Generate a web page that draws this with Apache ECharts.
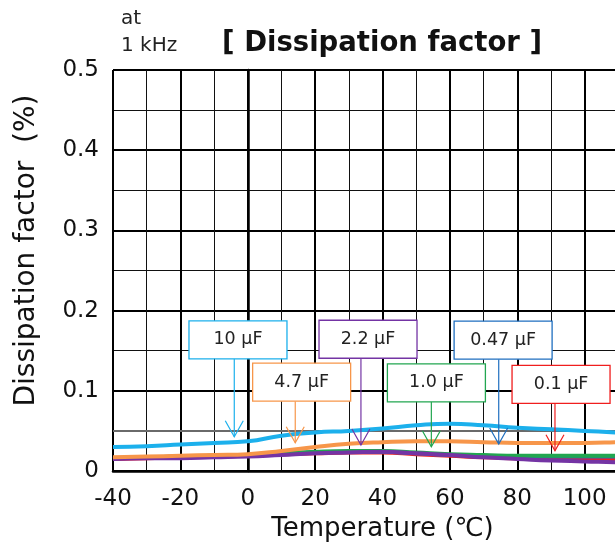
<!DOCTYPE html>
<html>
<head>
<meta charset="utf-8">
<script src="https://cdn.jsdelivr.net/npm/echarts@6/dist/echarts.min.js"></script>
<style>
html,body{margin:0;padding:0;background:#fff;}
#chart{width:615px;height:548px;}
</style>
</head>
<body>
<div id="chart"></div>
<script>
// ---- data ----
const temperatures = [-40, -30, -20, -10, 0, 10, 20, 30, 40, 50, 60, 70, 80, 90, 100, 110, 120];
const seriesNames = ['0.1 μF', '0.47 μF', '1.0 μF', '2.2 μF', '4.7 μF', '10 μF'];
const df_0_1  = [0.015, 0.016, 0.017, 0.018, 0.019, 0.021, 0.022, 0.023, 0.023, 0.021, 0.019, 0.017, 0.016, 0.015, 0.015, 0.014, 0.014];
const df_0_47 = [0.016, 0.017, 0.018, 0.019, 0.020, 0.022, 0.023, 0.024, 0.024, 0.022, 0.020, 0.019, 0.018, 0.018, 0.018, 0.018, 0.018];
const df_1_0  = [0.016, 0.017, 0.018, 0.019, 0.020, 0.022, 0.024, 0.025, 0.025, 0.023, 0.021, 0.020, 0.019, 0.019, 0.019, 0.019, 0.019];
const df_2_2  = [0.015, 0.016, 0.016, 0.017, 0.018, 0.020, 0.022, 0.023, 0.024, 0.022, 0.020, 0.017, 0.015, 0.013, 0.012, 0.011, 0.011];
const df_4_7  = [0.017, 0.018, 0.019, 0.020, 0.021, 0.025, 0.030, 0.034, 0.036, 0.037, 0.037, 0.036, 0.035, 0.035, 0.035, 0.036, 0.037];
const df_10   = [0.030, 0.031, 0.033, 0.035, 0.037, 0.044, 0.048, 0.050, 0.053, 0.057, 0.059, 0.057, 0.054, 0.052, 0.050, 0.048, 0.047];
const seriesValues = [df_0_1, df_0_47, df_1_0, df_2_2, df_4_7, df_10];
const seriesColors = ['#f01e1e', '#1f6fc0', '#22a650', '#7434a4', '#f7964a', '#1cb0ec'];

// callouts: label, arrow temperature, arrow tip value, box centre temperature, box centre value
const calloutLabels = ['10 μF', '4.7 μF', '2.2 μF', '1.0 μF', '0.47 μF', '0.1 μF'];
const calloutArrowT = [-4.0, 14.1, 33.6, 54.5, 74.5, 91.2];
const calloutTipV   = [0.0428, 0.0353, 0.0324, 0.0303, 0.0337, 0.0253];
const calloutBoxT   = [-2.9, 16.0, 35.7, 56.0, 75.8, 93.0];
const calloutBoxV   = [0.1635, 0.1107, 0.1643, 0.1099, 0.1631, 0.1081];
const calloutColor  = ['#1cb0ec', '#f7964a', '#7434a4', '#22a650', '#1f6fc0', '#f01e1e'];

const yTicks = [0, 0.1, 0.2, 0.3, 0.4, 0.5];
const refLineValue = [0.05];

const FONT = '"DejaVu Sans", Verdana, sans-serif';

const chart = echarts.init(document.getElementById('chart'), null, {renderer: 'canvas'});

const lineSeries = seriesNames.map((name, i) => ({
  name: name,
  type: 'line',
  smooth: 0.5,
  symbol: 'none',
  data: temperatures.map((t, k) => [t, seriesValues[i][k]]),
  lineStyle: {color: seriesColors[i], width: 4},
  itemStyle: {color: seriesColors[i]},
  z: 3 + i
}));

lineSeries[0].markLine = {
  silent: true,
  symbol: 'none',
  label: {show: false},
  lineStyle: {color: '#6a6a6a', width: 2, type: 'solid'},
  data: refLineValue.map(v => ({yAxis: v}))
};

const calloutData = calloutLabels.map((lab, i) => [calloutArrowT[i], calloutTipV[i], calloutBoxT[i], calloutBoxV[i], i]);

const calloutSeries = {
  type: 'custom',
  name: 'callouts',
  clip: false,
  z: 20,
  data: calloutData,
  renderItem: function (params, api) {
    const i = api.value(4);
    const tip = api.coord([api.value(0), api.value(1)]);
    const box = api.coord([api.value(2), api.value(3)]);
    const w = 98, h = 38;
    const col = calloutColor[i];
    const bx = box[0] - w / 2, by = box[1] - h / 2;
    return {
      type: 'group',
      children: [
        {type: 'line', shape: {x1: tip[0], y1: by + h, x2: tip[0], y2: tip[1]}, style: {stroke: col, lineWidth: 1.2}},
        {type: 'polyline', shape: {points: [[tip[0] - 9, tip[1] - 16], [tip[0], tip[1]], [tip[0] + 9, tip[1] - 16]]}, style: {stroke: col, lineWidth: 1.2, fill: null}},
        {type: 'rect', shape: {x: bx, y: by, width: w, height: h}, style: {fill: '#fff', stroke: col, lineWidth: 1.3}},
        {type: 'text', style: {x: box[0], y: box[1], text: calloutLabels[i], fill: '#222', fontSize: 17.5, fontFamily: FONT, align: 'center', verticalAlign: 'middle'}}
      ]
    };
  }
};

chart.setOption({
  animation: false,
  backgroundColor: '#fff',
  grid: {left: 113, top: 70, width: 539, bottom: 77, containLabel: false, outerBoundsMode: 'none'},
  title: {
    text: '[ Dissipation factor ]',
    left: 377, top: 25, textAlign: 'center',
    textStyle: {fontSize: 27.5, fontWeight: 'bold', color: '#111', fontFamily: FONT}
  },
  graphic: [
    {type: 'text', left: 121, top: 5, style: {text: 'at\n1 kHz', fill: '#222', fontSize: 20, lineHeight: 27, fontFamily: FONT}}
  ],
  xAxis: {
    type: 'value',
    min: -40, max: 120, interval: 20,
    name: 'Temperature (℃)',
    nameLocation: 'middle',
    nameGap: 42,
    nameTextStyle: {fontSize: 26, color: '#111', fontFamily: FONT},
    axisLine: {show: true, onZero: false, lineStyle: {color: '#000', width: 2.5}},
    axisTick: {show: false},
    axisLabel: {fontSize: 23, color: '#111', margin: 17, fontFamily: FONT},
    splitLine: {show: true, lineStyle: {color: '#000', width: 2}},
    minorTick: {show: false, splitNumber: 2},
    minorSplitLine: {show: true, lineStyle: {color: '#111', width: 1}}
  },
  yAxis: {
    type: 'value',
    min: 0, max: 0.5, interval: 0.1,
    name: 'Dissipation factor  (%)',
    nameLocation: 'middle',
    nameRotate: 90,
    nameGap: 72,
    nameTextStyle: {fontSize: 28, color: '#111', fontFamily: FONT, padding: [0, 0, 0, 40]},
    axisLine: {show: true, lineStyle: {color: '#000', width: 2.5}},
    axisTick: {show: false},
    axisLabel: {fontSize: 23, color: '#111', margin: 14, fontFamily: FONT,
      formatter: v => { const t = yTicks.find(y => Math.abs(y - v) < 1e-9); return t === 0 ? '0' : String(t); }},
    splitLine: {show: true, lineStyle: {color: '#000', width: 2}},
    minorTick: {show: false, splitNumber: 2},
    minorSplitLine: {show: true, lineStyle: {color: '#111', width: 1}}
  },
  series: lineSeries.concat([calloutSeries])
});
</script>
</body>
</html>
